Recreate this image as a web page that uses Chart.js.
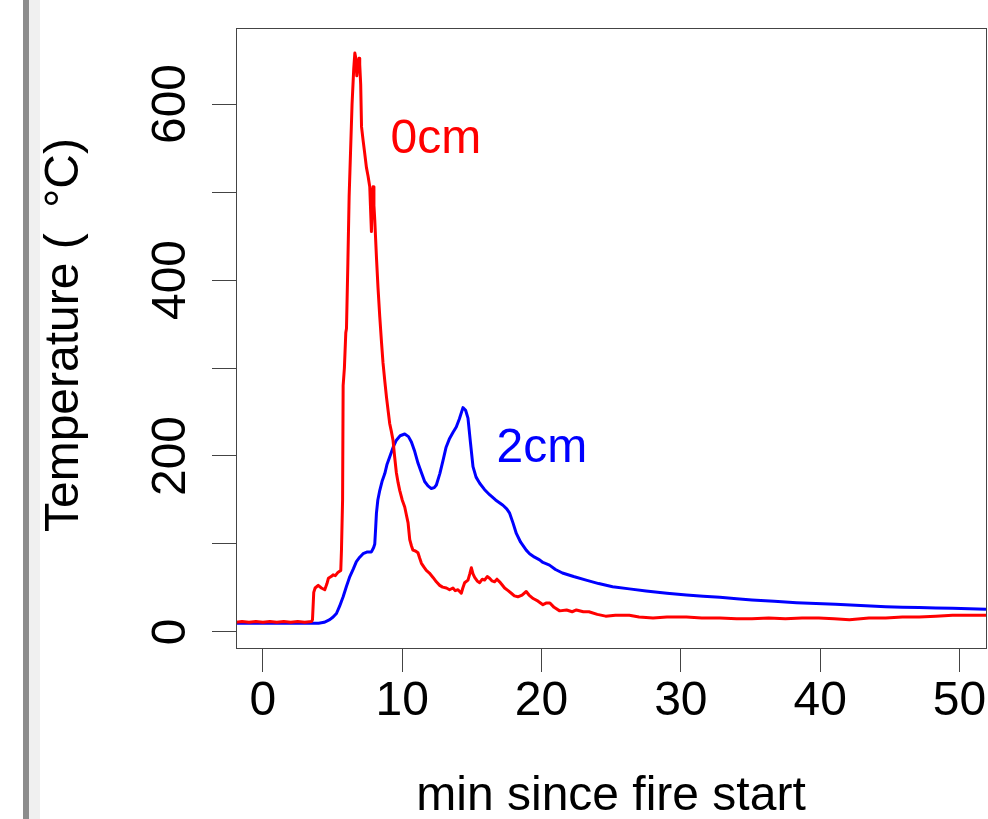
<!DOCTYPE html>
<html>
<head>
<meta charset="utf-8">
<script src="https://cdn.jsdelivr.net/npm/chart.js@4"></script>
<style>
  body { margin: 0; background: #fff; }
  canvas { display: block; }
</style>
</head>
<body>
<canvas id="myChart" width="988" height="819"></canvas>
<script>
// 0cm thermocouple (red)
const time0cm = [-2, -1.5, -1, -0.5, 0, 0.5, 1, 1.5, 2, 2.5, 3, 3.5,
  3.56, 3.65, 3.75, 3.97, 4.2, 4.44, 4.6, 4.7, 4.9, 5.04, 5.2, 5.4, 5.59, 5.64, 5.72, 5.76, 5.85, 5.95, 6.0,
  6.1, 6.19, 6.29, 6.4, 6.52, 6.6, 6.67, 6.74, 6.81, 6.9, 6.95, 7.02, 7.08, 7.19, 7.3, 7.43, 7.55, 7.67, 7.73, 7.79,
  7.85, 7.91, 7.97, 8.03, 8.15, 8.26, 8.39, 8.51, 8.62, 8.75, 8.87, 9.0, 9.1, 9.22, 9.34, 9.45, 9.58, 9.7, 9.82,
  10.0, 10.18, 10.3, 10.42, 10.54, 10.66, 10.77, 10.95, 11.13, 11.25, 11.38, 11.55, 11.73, 11.95, 12.21, 12.45,
  12.69, 12.9, 13.17, 13.4, 13.64, 13.8, 14.0, 14.24, 14.35, 14.48, 14.72, 14.85, 14.96, 15.08, 15.2, 15.38,
  15.56, 15.75, 15.91, 16.1, 16.27, 16.45, 16.63, 16.8, 16.99, 17.15, 17.35, 17.6, 17.83, 18.05, 18.3, 18.6,
  18.9, 19.1, 19.4, 19.75, 20.1, 20.36, 20.6, 20.9, 21.3, 21.8, 22.2, 22.5, 23.0, 23.4, 24.0, 24.6, 25.3, 26.3,
  27.0, 28.0, 29.0, 30.4, 31.5, 32.8, 34.0, 35.1, 36.3, 37.5, 38.7, 39.9, 41.0, 42.1, 43.5, 44.7, 45.9, 47.1,
  48.3, 49.5, 50.7, 51.9];
const temp0cm = [11, 12, 11, 12, 11, 12, 11, 12, 11, 12, 11, 12,
  14, 45, 50, 53, 50, 48, 55, 61, 63, 65, 64, 68, 70, 93, 150, 280, 300, 340, 345,
  420, 495, 545, 600, 640, 658, 652, 632, 642, 652, 645, 622, 574, 559, 545, 528, 518, 506, 480, 455,
  500, 506, 485, 468, 426, 392, 358, 330, 306, 285, 267, 250, 237, 228, 218, 200, 181, 170, 161,
  150, 142, 133, 124, 105, 98, 93, 92, 90, 84, 78, 74, 70, 67, 62, 57,
  53, 51, 50, 48, 50, 47, 48, 44, 50, 56, 59, 66, 73, 66, 62, 58,
  56, 60, 59, 63, 61, 58, 57, 60, 57, 54, 50, 47, 44, 41, 40, 42,
  46, 42, 38, 35, 31, 33, 33, 28, 24, 25, 23, 25, 23, 23, 20, 18, 19, 19,
  17, 16, 17, 17, 16, 16, 15, 15, 16, 15, 16, 16, 15, 14, 16, 16, 17, 17,
  18, 19, 19, 19];

// 2cm thermocouple (blue)
const time2cm = [-2, 4.0, 4.4, 4.8, 5.04, 5.28, 5.5, 5.76, 6.0, 6.24, 6.5, 6.71, 6.95, 7.19, 7.5, 7.79, 7.95,
  8.03, 8.1, 8.15, 8.25, 8.39, 8.55, 8.75, 8.9, 9.1, 9.35, 9.58, 9.85, 10.18, 10.45, 10.66, 10.9, 11.13,
  11.4, 11.61, 11.85, 12.09, 12.3, 12.45, 12.7, 12.93, 13.15, 13.4, 13.65, 13.88, 14.1, 14.36, 14.55, 14.72,
  14.9, 15.08, 15.3, 15.56, 15.9, 16.27, 16.7, 17.23, 17.5, 17.71, 17.95, 18.19, 18.5, 18.9, 19.14, 19.5,
  19.86, 20.1, 20.57, 21.0, 21.5, 22.3, 23.2, 24.1, 25.1, 26.3, 27.5, 29.0, 30.4, 31.6, 32.8, 34.0, 35.1,
  36.7, 38.3, 39.7, 41.1, 42.9, 44.7, 45.9, 47.1, 48.3, 49.5, 50.7, 51.9];
const temp2cm = [10, 10, 11, 14, 17, 21, 29, 40, 52, 63, 72, 80, 85, 89, 91, 91, 96,
  100, 120, 135, 150, 161, 171, 180, 190, 199, 210, 218, 223, 225, 222, 216, 205, 192,
  180, 171, 166, 163, 164, 167, 180, 195, 210, 220, 227, 233, 242, 255, 252, 243,
  215, 188, 176, 169, 162, 156, 150, 144, 140, 135, 124, 112, 102, 93, 89, 85,
  82, 79, 76, 71, 67, 63, 59, 55, 51.5, 49, 46.6, 44, 42, 40.5, 39.4, 37.8, 36.4,
  34.8, 33.3, 32.3, 31.4, 30, 28.8, 28.2, 27.7, 27.2, 26.9, 26.3, 25.8];

const xTickValues = [0, 10, 20, 30, 40, 50];
const yTickValues = [0, 100, 200, 300, 400, 500, 600];
const yTickLabels = [0, 200, 400, 600];
const seriesNames = ['0cm', '2cm'];
const seriesColors = ['#ff0000', '#0000ff'];
const labelX = [12.42, 20.03];
const labelY = [544, 193];
const xTitle = 'min since fire start';
const yTitleParts = ['Temperature (', '\u00B0C)'];

const FONT = '48px "Liberation Sans", Arial, sans-serif';

function toPoints(xs, ys) {
    let pts = [];
    for (let i = 0; i < xs.length; i++) {
        pts.push({ x: xs[i], y: ys[i] });
    }
    return pts;
}

const decor = {
    id: 'decor',
    beforeDraw(chart) {
        const c = chart.ctx;
        c.save();
        c.fillStyle = '#ffffff';
        c.fillRect(0, 0, chart.width, chart.height);
        // window edge on the left
        c.fillStyle = '#8c8c8c';
        c.fillRect(23, 0, 6, chart.height);
        c.fillStyle = '#f0f0f0';
        c.fillRect(29, 0, 11, chart.height);
        c.restore();
    },
    afterDraw(chart) {
        const c = chart.ctx;
        const a = chart.chartArea;
        const x = chart.scales.x;
        const y = chart.scales.y;
        c.save();
        c.strokeStyle = '#444';
        c.lineWidth = 1;
        c.strokeRect(Math.round(a.left) + 0.5, Math.round(a.top) + 0.5,
            Math.round(a.right - a.left), Math.round(a.bottom - a.top));

        c.font = FONT;
        c.fillStyle = '#000';
        c.textAlign = 'center';
        c.textBaseline = 'alphabetic';
        for (let v of xTickValues) {
            c.fillText(String(v), x.getPixelForValue(v), 715);
        }
        for (let v of yTickLabels) {
            c.save();
            c.translate(185, y.getPixelForValue(v));
            c.rotate(-Math.PI / 2);
            c.fillText(String(v), 0, 0);
            c.restore();
        }
        c.fillText(xTitle, (a.left + a.right) / 2, 810);

        // y title, spaced like the plotmath original
        c.save();
        c.translate(78, (a.top + a.bottom) / 2);
        c.rotate(-Math.PI / 2);
        c.textAlign = 'left';
        c.fillText(yTitleParts[0], -194, 0);
        c.textAlign = 'right';
        c.fillText(yTitleParts[1], 200, 0);
        c.restore();

        // curve labels
        c.textAlign = 'center';
        for (let i = 0; i < seriesNames.length; i++) {
            c.fillStyle = seriesColors[i];
            c.fillText(seriesNames[i], x.getPixelForValue(labelX[i]), y.getPixelForValue(labelY[i]));
        }
        c.restore();
    }
};

const ctx = document.getElementById('myChart');

new Chart(ctx, {
    type: 'line',
    data: {
        datasets: [
            {
                label: seriesNames[0],
                data: toPoints(time0cm, temp0cm),
                borderColor: seriesColors[0],
                borderWidth: 3,
                borderJoinStyle: 'round',
                pointRadius: 0,
                tension: 0
            },
            {
                label: seriesNames[1],
                data: toPoints(time2cm, temp2cm),
                borderColor: seriesColors[1],
                borderWidth: 3,
                borderJoinStyle: 'round',
                pointRadius: 0,
                tension: 0
            }]
    },
    plugins: [decor],
    options: {
        responsive: false,
        animation: false,
        events: [],
        layout: { padding: { top: 28, right: 2, left: 0, bottom: 0 } },
        plugins: {
            legend: { display: false },
            tooltip: { enabled: false }
        },
        scales: {
            x: {
                type: 'linear',
                min: -1.93,
                max: 51.9,
                afterBuildTicks: function (s) { s.ticks = xTickValues.map(v => ({ value: v })); },
                afterFit: function (s) { s.height = 171; },
                ticks: { display: false },
                grid: { drawOnChartArea: false, drawTicks: true, tickLength: 24, color: '#444', lineWidth: 1 },
                border: { display: false }
            },
            y: {
                type: 'linear',
                min: -18.2,
                max: 686.4,
                afterBuildTicks: function (s) { s.ticks = yTickValues.map(v => ({ value: v })); },
                afterFit: function (s) { s.width = 236; },
                ticks: { display: false },
                grid: { drawOnChartArea: false, drawTicks: true, tickLength: 24, color: '#444', lineWidth: 1 },
                border: { display: false }
            }
        }
    }
});
</script>
</body>
</html>
